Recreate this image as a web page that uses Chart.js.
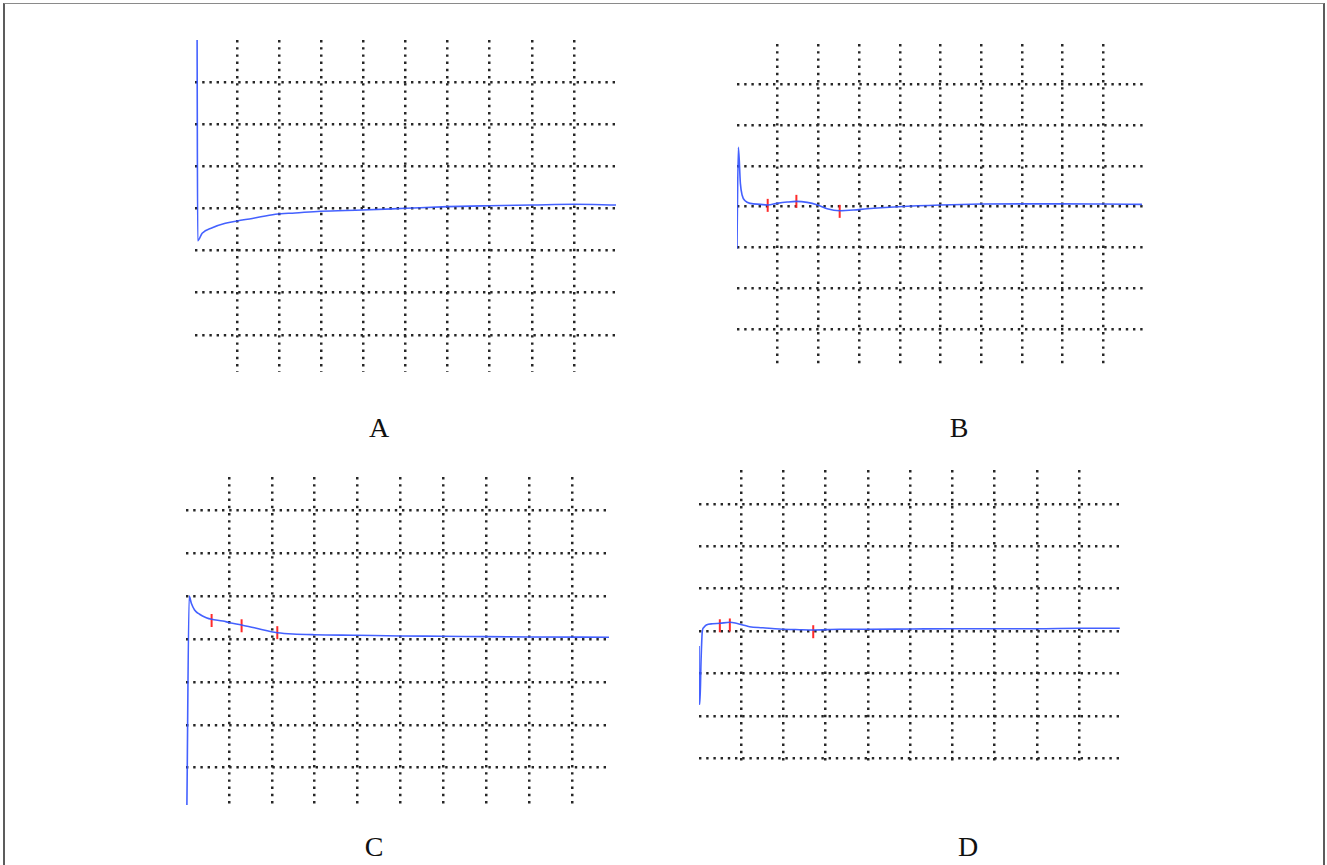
<!DOCTYPE html>
<html>
<head>
<meta charset="utf-8">
<title>A B C D</title>
<script src="https://cdn.jsdelivr.net/npm/chart.js@4.4.1/dist/chart.umd.min.js"></script>
<style>
    html, body { margin: 0; padding: 0; background: #fff; overflow: hidden; }
    body { width: 1327px; height: 865px; position: relative; }
    .frame {
        position: absolute; left: 3px; top: 3px; width: 1318px; height: 900px;
        border-left: 2px solid #5c5c5c; border-right: 2px solid #5c5c5c; border-top: 1px solid #8a8a8a;
    }
    .panel { position: absolute; }
    .label {
        position: absolute; transform: translateX(-50%);
        font-family: "Liberation Serif", "Times New Roman", serif;
        font-size: 28px; line-height: 28px; color: #111;
    }
</style>
</head>
<body>
<div class="frame"></div>
<div class="panel" id="panelA"><canvas id="chartA"></canvas></div>
<div class="panel" id="panelB"><canvas id="chartB"></canvas></div>
<div class="panel" id="panelC"><canvas id="chartC"></canvas></div>
<div class="panel" id="panelD"><canvas id="chartD"></canvas></div>

<script>
// 网格线位置
const xGridLines = [1, 2, 3, 4, 5, 6, 7, 8, 9];
const yGridLines = [-3, -2, -1, 0, 1, 2, 3];
const panelLabels = ['A', 'B', 'C', 'D'];

// 曲线 A
const traceAX = [0.05, 0.064, 0.17, 0.41, 0.72, 1.0, 1.36, 1.91, 2.38, 2.98, 3.98, 5.0, 6.0, 7.0, 8.0, 9.0, 10.0];
const traceAY = [3.99, -0.77, -0.59, -0.46, -0.355, -0.30, -0.24, -0.14, -0.11, -0.07, -0.04, 0.0, 0.04, 0.062, 0.078, 0.095, 0.08];
const markAX = [];
const markAY = [];

// 曲线 B
const traceBX = [0.0, 0.005, 0.034, 0.083, 0.125, 0.206, 0.329, 0.575, 0.754, 0.985, 1.231, 1.459, 1.722, 1.983, 2.214, 2.523, 2.867, 3.197, 3.966, 5.0, 5.98, 6.99, 7.99, 8.98, 9.95];
const traceBY = [-1.03, -0.50, 1.456, 0.574, 0.287, 0.14, 0.083, 0.059, 0.042, 0.083, 0.115, 0.132, 0.108, 0.042, -0.049, -0.098, -0.081, -0.049, 0.0, 0.042, 0.066, 0.071, 0.071, 0.066, 0.059];
const markBX = [0.754, 1.459, 2.523];
const markBY = [0.034, 0.132, -0.113];

// 曲线 C
const traceCX = [0.021, 0.074, 0.124, 0.2, 0.317, 0.473, 0.597, 0.86, 1.016, 1.296, 1.639, 1.988, 2.128, 2.492, 2.99, 3.98, 4.99, 5.99, 6.99, 7.99, 9.86];
const traceCY = [-3.87, 1.0, 0.832, 0.676, 0.576, 0.497, 0.459, 0.42, 0.38, 0.326, 0.249, 0.17, 0.147, 0.117, 0.1, 0.086, 0.07, 0.063, 0.054, 0.047, 0.04];
const markCX = [0.597, 1.296, 2.128];
const markCY = [0.431, 0.308, 0.147];

// 曲线 D
const traceDX = [0.0, 0.004, 0.02, 0.049, 0.077, 0.108, 0.172, 0.328, 0.493, 0.73, 0.882, 1.038, 1.196, 1.511, 1.906, 2.38, 2.704, 3.327, 4.006, 5.0, 5.994, 6.99, 7.99, 9.0, 9.96];
const traceDY = [-0.354, -1.627, -1.729, -0.684, -0.017, 0.078, 0.142, 0.172, 0.182, 0.205, 0.182, 0.142, 0.101, 0.078, 0.047, 0.031, 0.024, 0.04, 0.04, 0.047, 0.054, 0.054, 0.054, 0.064, 0.064];
const markDX = [0.493, 0.73, 2.704];
const markDY = [0.123, 0.142, -0.017];

// 每个面板的位置和坐标范围
const layout = {
    A: { left: 195, top: 40, width: 421, height: 332, xMax: 10, yMin: -3.88, yMax: 3.99, labelX: 379, labelTop: 414 },
    B: { left: 737, top: 44, width: 407, height: 321, xMax: 10, yMin: -3.88, yMax: 3.99, labelX: 959, labelTop: 414 },
    C: { left: 186, top: 477, width: 423, height: 328, xMax: 9.86, yMin: -3.87, yMax: 3.776, labelX: 374, labelTop: 833 },
    D: { left: 699, top: 470, width: 421, height: 294, xMax: 9.965, yMin: -3.137, yMax: 3.797, labelX: 968, labelTop: 833 }
};

const series = {
    A: [traceAX, traceAY, markAX, markAY],
    B: [traceBX, traceBY, markBX, markBY],
    C: [traceCX, traceCY, markCX, markCY],
    D: [traceDX, traceDY, markDX, markDY]
};

function toPoints(xs, ys) {
    return xs.map((x, i) => ({ x, y: ys[i] }));
}

function gridScale(min, max, lines) {
    return {
        type: 'linear',
        min,
        max,
        afterBuildTicks: axis => { axis.ticks = lines.map(v => ({ value: v })); },
        ticks: { display: false },
        grid: { color: '#262626', lineWidth: 2.5, drawTicks: false },
        border: { display: false, dash: [2.4, 4.8] }
    };
}

function buildPanel(name) {
    const box = layout[name];
    const panel = document.getElementById('panel' + name);
    panel.style.left = box.left + 'px';
    panel.style.top = box.top + 'px';
    panel.style.width = box.width + 'px';
    panel.style.height = box.height + 'px';

    const [tx, ty, mx, my] = series[name];
    const ctx = document.getElementById('chart' + name).getContext('2d');
    new Chart(ctx, {
        type: 'scatter',
        data: {
            datasets: [{
                data: toPoints(tx, ty),
                showLine: true,
                borderColor: 'rgba(52, 84, 255, 0.92)',
                borderWidth: 1.6,
                pointRadius: 0,
                cubicInterpolationMode: 'monotone',
                fill: false
            }, {
                data: toPoints(mx, my),
                showLine: false,
                pointStyle: 'line',
                rotation: 90,
                pointRadius: 6.5,
                borderColor: 'rgba(255, 32, 32, 0.95)',
                borderWidth: 2
            }]
        },
        options: {
            responsive: true,
            maintainAspectRatio: false,
            animation: false,
            events: [],
            layout: { padding: 0, autoPadding: false },
            plugins: { legend: { display: false }, tooltip: { enabled: false } },
            scales: {
                x: gridScale(0, box.xMax, xGridLines),
                y: gridScale(box.yMin, box.yMax, yGridLines)
            }
        }
    });

    // 面板字母
    const label = document.createElement('div');
    label.className = 'label';
    label.textContent = panelLabels[Object.keys(layout).indexOf(name)];
    label.style.left = box.labelX + 'px';
    label.style.top = box.labelTop + 'px';
    document.body.appendChild(label);
}

Object.keys(layout).forEach(buildPanel);
</script>
</body>
</html>
